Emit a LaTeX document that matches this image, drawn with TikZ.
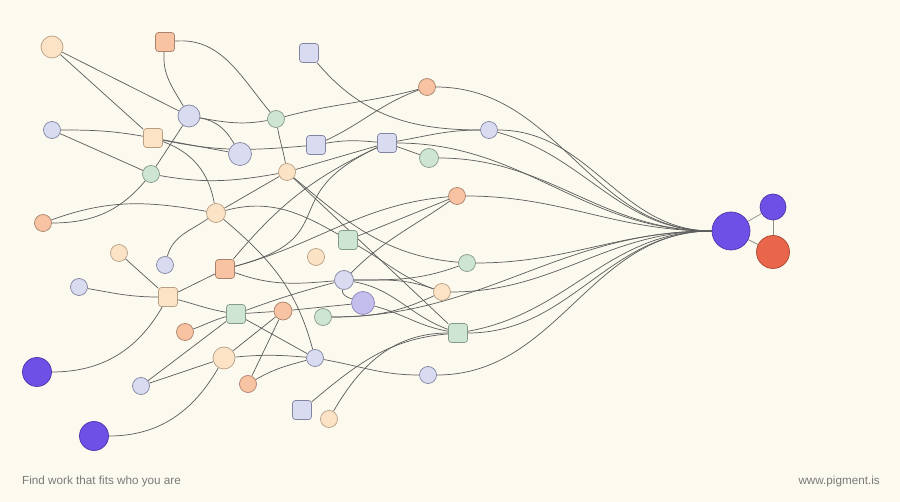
\documentclass[tikz,border=0pt]{standalone}
\usepackage{fontspec}
\setmainfont{Liberation Sans}
\definecolor{bgc}{HTML}{FCF9EE}
\definecolor{edgec}{HTML}{5E5E5E}
\definecolor{peach}{HTML}{FDE3C6}
\definecolor{peachD}{HTML}{B89F84}
\definecolor{orng}{HTML}{F8C3A3}
\definecolor{orngD}{HTML}{A9836C}
\definecolor{lav}{HTML}{D9DBF0}
\definecolor{lavD}{HTML}{8185A2}
\definecolor{grn}{HTML}{CFE5D3}
\definecolor{grnD}{HTML}{849B89}
\definecolor{purp}{HTML}{6E50E6}
\definecolor{purpD}{HTML}{4A36A8}
\definecolor{redc}{HTML}{E9654C}
\definecolor{redD}{HTML}{A8472F}
\definecolor{viol}{HTML}{C4BEEC}
\definecolor{violD}{HTML}{8884B8}
\definecolor{txtc}{HTML}{7A7A7A}
\pgfdeclarelayer{bglayer}
\pgfdeclarelayer{edgelayer}
\pgfsetlayers{bglayer,edgelayer,main}
\begin{document}
\begin{tikzpicture}[x=1pt,y=1pt,
  edge/.style={draw=edgec, line width=0.72pt},
  cbase/.style={circle, line width=0.7pt, inner sep=0pt, minimum size=#1},
  cbase/.default=17pt,
  cPeach/.style={cbase=#1, draw=peachD, fill=peach}, cPeach/.default=17pt,
  cOrange/.style={cbase=#1, draw=orngD, fill=orng}, cOrange/.default=17pt,
  cLav/.style={cbase=#1, draw=lavD, fill=lav}, cLav/.default=17pt,
  cGreen/.style={cbase=#1, draw=grnD, fill=grn}, cGreen/.default=17pt,
  cPurple/.style={cbase=#1, draw=purpD, fill=purp}, cPurple/.default=29pt,
  cRed/.style={cbase=#1, draw=redD, fill=redc}, cRed/.default=33pt,
  cViolet/.style={cbase=#1, draw=violD, fill=viol}, cViolet/.default=23pt,
  sqbase/.style={rectangle, rounded corners=3pt, line width=0.7pt, inner sep=0pt, minimum size=19pt},
  sqPeach/.style={sqbase, draw=peachD, fill=peach},
  sqOrange/.style={sqbase, draw=orngD, fill=orng},
  sqLav/.style={sqbase, draw=lavD, fill=lav},
  sqGreen/.style={sqbase, draw=grnD, fill=grn},
  foot/.style={text=txtc, font=\fontsize{11.7}{14}\selectfont, inner sep=0pt}
]
\begin{pgfonlayer}{bglayer}
\fill[bgc] (0,0) rectangle (900,-502);
\end{pgfonlayer}
\useasboundingbox (0,0) rectangle (900,-502);

% nodes
\node[cPeach=22pt] (A) at (52,-47) {};
\node[sqOrange] (B) at (165,-42) {};
\node[sqLav] (C) at (309,-53) {};
\node[cOrange] (D) at (427,-87) {};
\node[cLav] (E) at (52,-130) {};
\node[sqPeach] (F) at (153,-138) {};
\node[cLav=22pt] (G) at (189,-116) {};
\node[cGreen] (H) at (276,-119) {};
\node[cLav=23pt] (I) at (240,-154) {};
\node[sqLav] (J) at (316,-145) {};
\node[sqLav] (K) at (387,-143) {};
\node[cLav] (L) at (489,-130) {};
\node[cGreen=19pt] (M) at (429,-158) {};
\node[cGreen] (N) at (151,-174) {};
\node[cPeach] (O) at (287,-172) {};
\node[cOrange] (P) at (43,-223) {};
\node[cPeach=19pt] (Q) at (216,-213) {};
\node[cOrange] (R) at (457,-196) {};
\node[sqGreen] (S) at (348,-240) {};
\node[cPeach] (T) at (119,-253) {};
\node[cLav] (U) at (165,-265) {};
\node[sqOrange] (V) at (225,-269) {};
\node[cPeach] (W) at (316,-257) {};
\node[cGreen] (X) at (467,-263) {};
\node[cLav] (Y) at (79,-287) {};
\node[sqPeach] (Z) at (168,-297) {};
\node[cLav=19pt] (a) at (344,-280) {};
\node[cPeach] (b) at (442,-292) {};
\node[cViolet] (c) at (363,-303) {};
\node[sqGreen] (d) at (236,-314) {};
\node[cOrange=18pt] (e) at (283,-311) {};
\node[cGreen] (f) at (323,-317) {};
\node[cOrange] (g) at (185,-332) {};
\node[sqGreen] (h) at (458,-333) {};
\node[cPurple] (i) at (37,-372) {};
\node[cPeach=22pt] (j) at (224,-358) {};
\node[cLav] (k) at (315,-358) {};
\node[cLav] (l) at (141,-386) {};
\node[cOrange] (m) at (248,-384) {};
\node[cLav] (n) at (428,-375) {};
\node[sqLav] (o) at (302,-410) {};
\node[cPeach] (p) at (329,-419) {};
\node[cPurple] (q) at (94,-436) {};
\node[cPurple=38pt] (hub) at (731,-231) {};
\node[cPurple=26pt] (hubA) at (773,-207) {};
\node[cRed] (hubB) at (773,-252) {};

\node[foot, anchor=west] (tl) at (22,-481) {Find work that fits who you are};
\node[foot, anchor=east] (tr) at (880,-481) {www.pigment.is};

\begin{pgfonlayer}{edgelayer}
% top-left cluster
\draw[edge] (A) -- (G);
\draw[edge] (A) -- (F);
\draw[edge] (B) to[out=-95,in=120] (G);
\draw[edge] (B) to[out=5,in=130] (H);
\draw[edge] (C) to[out=-50,in=180] (L);
\draw[edge] (G) to[out=-10,in=190] (H);
\draw[edge] (G) to[out=-10,in=120] (I);
\draw[edge] (G) -- (N);
\draw[edge] (E) to[out=0,in=170] (F);
\draw[edge] (E) -- (N);
\draw[edge] (F) -- (I);
\draw[edge] (F) to[out=-12,in=185] (J);
\draw[edge] (F) to[out=-20,in=100] (Q);
\draw[edge] (N) to[out=-10,in=190] (O);
\draw[edge] (H) to[out=-80,in=100] (O);
\draw[edge] (H) to[out=15,in=195] (D);
\draw[edge] (P) to[out=20,in=170] (Q);
\draw[edge] (P) to[out=0,in=-130] (N);
\draw[edge] (Q) -- (O);
\draw[edge] (Q) to[out=15,in=150] (S);
\draw[edge] (Q) to[out=-40,in=105] (k);
\draw[edge] (Q) to[out=-145,in=75] (U);
% middle
\draw[edge] (J) to[out=25,in=200] (D);
\draw[edge] (J) to[out=10,in=175] (K);
\draw[edge] (O) -- (K);
\draw[edge] (K) to[out=10,in=180] (L);
\draw[edge] (K) -- (M);
\draw[edge] (V) to[out=15,in=185] (R);
\draw[edge] (S) -- (R);
\draw[edge] (a) to[out=45,in=215] (R);
\draw[edge] (V) to[out=50,in=205] (K);
\draw[edge] (V) to[out=15,in=205,looseness=1.6] (K);
\draw[edge] (O) -- (h);
\draw[edge] (O) to[out=-40,in=175] (X);
\draw[edge] (S) to[out=-30,in=160] (b);
\draw[edge] (a) to[out=0,in=160] (b);
\draw[edge] (a) to[out=0,in=200] (X);
\draw[edge] (a) to[out=-100,in=160] (c);
\draw[edge] (d) to[out=20,in=195] (a);
\draw[edge] (V) to[out=-20,in=185] (a);
\draw[edge] (a) to[out=-10,in=160] (h);
\draw[edge] (c) to[out=-15,in=170] (h);
\draw[edge] (e) -- (c);
\draw[edge] (f) to[out=0,in=205] (b);
% lower-left cluster
\draw[edge] (d) -- (e);
\draw[edge] (d) -- (k);
\draw[edge] (d) -- (l);
\draw[edge] (Z) to[out=-15,in=170] (d);
\draw[edge] (Z) -- (V);
\draw[edge] (Z) to[out=-120,in=0] (i);
\draw[edge] (T) -- (Z);
\draw[edge] (Y) to[out=-10,in=180] (Z);
\draw[edge] (g) to[out=20,in=195] (d);
\draw[edge] (j) -- (e);
\draw[edge] (j) to[out=5,in=175] (k);
\draw[edge] (j) -- (l);
\draw[edge] (j) to[out=-120,in=0] (q);
\draw[edge] (m) -- (e);
\draw[edge] (m) to[out=30,in=195] (k);
\draw[edge] (k) to[out=-10,in=180] (n);
\draw[edge] (o) to[out=40,in=185] (h);
\draw[edge] (p) to[out=60,in=180] (h);
% fan into hub
\draw[edge] (D) to[out=0,in=180] (hub.west);
\draw[edge] (L) to[out=0,in=180] (hub.west);
\draw[edge] (L) to[out=-15,in=180] (hub.west);
\draw[edge] (K) to[out=0,in=180] (hub.west);
\draw[edge] (M) to[out=0,in=180] (hub.west);
\draw[edge] (R) to[out=0,in=180] (hub.west);
\draw[edge] (X) to[out=0,in=180] (hub.west);
\draw[edge] (b) to[out=0,in=180] (hub.west);
\draw[edge] (f) to[out=0,in=180] (hub.west);
\draw[edge] (h) to[out=0,in=180] (hub.west);
\draw[edge] (h) to[out=10,in=180] (hub.west);
\draw[edge] (n) to[out=0,in=180] (hub.west);
% hub triangle
\draw[edge, draw=edgec!70] (hub) -- (hubA);
\draw[edge, draw=edgec!70] (hub) -- (hubB);
\draw[edge, draw=edgec!70] (hubA) -- (hubB);
\end{pgfonlayer}
\end{tikzpicture}
\end{document}
